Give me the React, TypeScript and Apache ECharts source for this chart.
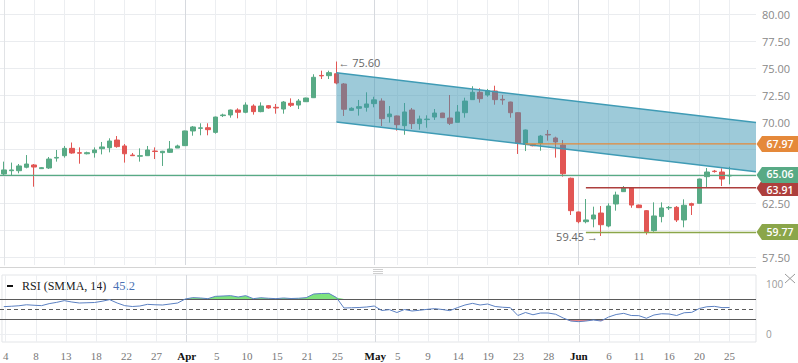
import React, { useEffect, useRef } from 'react';
import * as echarts from 'echarts';

const dates = [
  'Mar 4','Mar 5','Mar 6','Mar 7','Mar 8','Mar 10','Mar 11','Mar 12','Mar 13','Mar 14','Mar 15','Mar 17','Mar 18','Mar 19','Mar 20','Mar 21','Mar 22','Mar 24','Mar 25','Mar 26','Mar 27','Mar 28','Mar 29','Mar 31',
  'Apr 1','Apr 2','Apr 3','Apr 4','Apr 5','Apr 7','Apr 8','Apr 9','Apr 10','Apr 11','Apr 12','Apr 14','Apr 15','Apr 16','Apr 17','Apr 18','Apr 21','Apr 22','Apr 23','Apr 24','Apr 25','Apr 26','Apr 28','Apr 29','Apr 30',
  'May 1','May 2','May 3','May 5','May 6','May 7','May 8','May 9','May 10','May 12','May 13','May 14','May 15','May 16','May 17','May 19','May 20','May 21','May 22','May 23','May 24','May 26','May 27','May 28','May 29','May 30','May 31',
  'Jun 2','Jun 3','Jun 4','Jun 5','Jun 6','Jun 7','Jun 9','Jun 10','Jun 11','Jun 12','Jun 13','Jun 14','Jun 16','Jun 17','Jun 18','Jun 19','Jun 20','Jun 21','Jun 23','Jun 24','Jun 25',
];
const padCategories = [' ', '  ', '   '];

const openP = [
  65.19,65.49,65.49,65.81,66.02,65.68,65.74,66.66,66.88,67.56,67.16,67.06,67.16,67.53,67.62,68.33,67.78,66.94,66.83,66.88,
  67.31,67.16,67.19,67.59,67.81,69.17,69.41,69.47,69.04,70.59,70.65,71.11,70.90,71.48,70.96,71.51,71.36,71.20,71.73,71.57,
  71.88,72.25,74.31,74.29,74.47,73.52,71.08,71.27,71.36,71.70,71.94,70.49,70.56,69.66,71.11,69.85,70.22,70.46,70.83,70.37,
  69.97,70.86,72.07,72.75,72.50,72.87,72.10,71.85,70.86,67.94,67.92,68.03,68.85,68.52,67.87,64.79,61.67,60.77,61.02,61.57,
  60.37,62.41,63.55,63.92,62.31,61.79,59.94,61.24,62.05,62.10,60.93,62.44,62.47,64.94,65.45,65.37,65.00,
];
const closeP = [
  65.56,65.56,65.93,66.11,65.83,65.77,66.57,66.72,67.56,67.13,67.11,67.16,67.41,67.69,68.24,67.72,67.06,66.88,66.88,67.41,
  67.27,67.29,67.50,67.78,69.17,69.54,69.46,69.29,70.46,70.65,71.11,70.90,71.57,70.96,71.48,71.30,71.30,71.85,71.55,71.94,
  72.22,74.14,74.27,74.57,73.61,71.18,71.27,71.42,71.67,72.05,70.31,70.74,69.75,70.93,69.85,70.28,70.27,70.83,70.40,69.88,
  70.93,71.94,72.75,72.16,72.90,72.07,72.04,70.86,68.03,69.26,67.80,68.70,68.80,68.15,65.21,61.79,60.77,60.93,61.39,60.49,
  62.22,63.24,63.92,62.31,62.07,59.84,61.30,62.04,62.09,60.93,62.29,62.29,64.72,65.37,65.41,64.72,65.06,
];
const highP = [
  66.33,66.24,66.11,66.94,66.11,65.83,66.76,67.41,67.78,68.10,67.65,67.25,67.65,68.15,68.49,68.70,67.96,67.13,67.56,67.78,
  67.65,67.33,68.24,67.90,69.20,69.63,69.88,69.88,70.50,70.77,71.15,71.27,71.82,71.64,71.82,71.57,71.67,71.94,72.19,72.13,
  72.25,74.42,74.75,74.75,75.60,73.61,71.36,72.04,72.75,72.34,72.19,71.48,70.60,71.76,71.30,70.59,70.62,71.20,70.85,72.50,
  71.57,72.25,73.31,73.12,73.06,73.36,72.50,71.88,70.90,69.30,67.95,68.80,69.26,68.64,68.33,64.85,61.70,62.87,62.16,62.22,
  62.47,63.55,64.07,63.95,62.35,61.85,62.56,62.56,62.22,62.22,62.84,62.53,64.75,65.74,65.56,65.71,65.86,
];
const lowP = [
  65.09,65.09,65.25,65.71,64.01,65.65,65.65,66.33,66.70,67.06,66.14,67.00,66.70,67.00,67.19,67.62,66.24,66.86,66.33,66.86,
  66.57,65.93,67.13,67.59,67.78,68.73,68.77,68.77,68.92,70.46,70.40,70.34,70.81,70.68,70.90,71.23,70.77,70.77,71.39,71.20,
  71.85,72.22,73.98,73.98,73.49,70.56,71.05,70.59,70.96,71.36,69.63,69.94,69.20,68.82,69.35,69.29,69.47,70.19,70.38,69.72,
  69.94,70.40,72.04,71.79,72.34,71.60,71.60,70.40,67.04,67.31,67.75,67.34,68.27,66.70,64.94,61.39,60.62,60.62,60.25,59.45,
  60.25,61.79,63.52,62.06,62.03,59.57,59.84,60.71,61.85,60.74,60.25,61.39,62.44,63.95,65.31,64.07,64.23,
];

const rsiValues = [
  54.7,55.5,56.5,58.5,57.5,56.7,60.7,63.3,66.7,64,62,62.5,63,65.5,68.7,62,56.7,55,56,59.3,
  58.5,58,60,62,70,72.7,72,70.7,75.3,76,76.7,74,76.7,70.7,72.5,71.5,70.7,72,71,71.5,
  72.7,80,81,81.3,73,52,52.5,53,54,56,47,48.7,43,49,46,47.5,49.3,50.7,49,46.7,
  52.7,58,61.3,58,60,55,53.5,52.7,37,43,38.5,42,42,39.5,32,26,24.7,26,28,26,
  34,39,41.3,37,36.7,31.5,38,40.5,40,37,42.5,43.3,51,54.5,55.3,52.7,53,
];
const rsiLabel = 'RSI (SMMA, 14)';
const rsiLast = '45.2';
const rsiLevels = [70, 50, 30];

const tickIndex = [0,4,8,12,16,20,24,28,32,36,40,44,49,52,56,60,64,68,72,76,80,84,88,92,96];
const tickText = ['4','8','13','18','22','27','Apr','5','10','15','21','25','May','5','9','14','19','23','28','Jun','6','11','16','20','25'];
const monthTicks = ['Apr','May','Jun'];
const priceTicks = { min: 57.5, max: 80, step: 2.5 };

const levelValues = [67.97, 63.91, 65.06, 59.77];
const levelStart = [69, 77, -0.5, 77];
const levelColors = ['#e5893a', '#ad3f3d', '#58aa85', '#8ba64a'];
const levelTextShift = [0, 1.5, -1, 0];

const channelX = [44, 99.5];
const channelUpper = [74.55, 69.95];
const channelLower = [70.0, 65.4];

const highMark = { index: 44, value: 75.6, text: '\u2190 75.60' };
const lowMark = { index: 79, value: 59.45, text: '59.45 \u2192' };

const UP = '#58aa85';
const DOWN = '#e25654';
const GRID_LEFT = -2.1;
const GRID_RIGHT = 42;
const XMAX = 99.5;
const SANS = "'Open Sans', 'Noto Sans', sans-serif";
const SERIF = "'Liberation Serif', 'DejaVu Serif', serif";

export default function App() {
  const ref = useRef<HTMLDivElement>(null);
  useEffect(() => {
    if (!ref.current) return;
    const chart = echarts.init(ref.current, null, { renderer: 'svg' });
    const categories = dates.concat(padCategories);
    const candleData = openP.map((o, i) => [o, closeP[i], lowP[i], highP[i]]);

    const vLineData = () =>
      tickIndex.map((ix, k) => ({
        xAxis: ix,
        lineStyle: { color: monthTicks.includes(tickText[k]) ? '#d6d9de' : '#eceef1', width: 1, type: 'solid' },
      }));

    const option: any = {
      animation: false,
      backgroundColor: '#ffffff',
      grid: [
        { left: GRID_LEFT, right: GRID_RIGHT, top: 14, height: 243 },
        { left: GRID_LEFT, right: GRID_RIGHT, top: 0, height: 265 },
        { left: GRID_LEFT, right: GRID_RIGHT, top: 284, height: 50 },
        { left: GRID_LEFT, right: GRID_RIGHT, top: 275, height: 67, show: true, borderColor: '#e3e5e8', borderWidth: 1 },
      ],
      xAxis: [
        { type: 'category', gridIndex: 0, data: categories, boundaryGap: true, show: false },
        { type: 'value', gridIndex: 0, min: -0.5, max: XMAX, show: false },
        { type: 'value', gridIndex: 1, min: -0.5, max: XMAX, show: false },
        { type: 'category', gridIndex: 2, data: categories, boundaryGap: true, show: false },
        {
          type: 'category', gridIndex: 3, data: categories, boundaryGap: true,
          axisLine: { show: false }, axisTick: { show: false }, splitLine: { show: false },
          axisLabel: {
            show: true, margin: 8, fontFamily: SERIF, fontSize: 11,
            interval: (index: number) => tickIndex.indexOf(index) >= 0,
            formatter: (_v: string, index: number) => {
              const k = tickIndex.indexOf(index);
              if (k < 0) return '';
              const t = tickText[k];
              return monthTicks.includes(t) ? `{m|${t}}` : `{d|${t}}`;
            },
            rich: {
              m: { color: '#111', fontWeight: 'bold', fontFamily: SERIF, fontSize: 11 },
              d: { color: '#777', fontFamily: SERIF, fontSize: 11 },
            },
          },
        },
        { type: 'value', gridIndex: 3, min: -0.5, max: XMAX, show: false },
      ],
      yAxis: [
        {
          type: 'value', gridIndex: 0, position: 'right', min: priceTicks.min, max: priceTicks.max, interval: priceTicks.step,
          axisLine: { show: false }, axisTick: { show: false },
          splitLine: { show: true, lineStyle: { color: '#eaecef', width: 1 } },
          axisLabel: {
            margin: 6, color: '#888', fontSize: 11, fontFamily: SANS,
            formatter: (v: number) => (levelValues.some((l) => Math.abs(l - v) < 0.8) ? '' : v.toFixed(2)),
          },
        },
        {
          type: 'value', gridIndex: 1, position: 'right', min: 0, max: 1,
          axisLine: { show: true, lineStyle: { color: '#e1e3e6' } }, axisTick: { show: false },
          axisLabel: { show: false }, splitLine: { show: false },
        },
        {
          type: 'value', gridIndex: 2, position: 'right', min: 0, max: 100, interval: 100,
          axisLine: { show: false }, axisTick: { show: false }, splitLine: { show: false },
          axisLabel: { margin: 10, color: '#999', fontSize: 10, fontFamily: SANS },
        },
        { type: 'value', gridIndex: 3, min: 0, max: 1, show: false },
      ],
      series: [
        {
          type: 'line', xAxisIndex: 2, yAxisIndex: 1, data: [], silent: true, z: 0,
          markLine: { silent: true, z: 0, symbol: ['none', 'none'], label: { show: false }, data: vLineData() },
        },
        {
          type: 'line', xAxisIndex: 5, yAxisIndex: 3, data: [], silent: true, z: 0,
          markLine: { silent: true, z: 0, symbol: ['none', 'none'], label: { show: false }, data: vLineData() },
        },
        {
          type: 'candlestick', xAxisIndex: 0, yAxisIndex: 0, data: candleData, barWidth: 5, z: 2,
          itemStyle: { color: UP, color0: DOWN, borderColor: UP, borderColor0: DOWN, borderWidth: 1 },
        },
        {
          type: 'custom', xAxisIndex: 1, yAxisIndex: 0, z: 3, silent: true,
          data: [[channelX[0], channelUpper[0]]],
          renderItem: (_p: any, api: any) => {
            const a = api.coord([channelX[0], channelUpper[0]]);
            const b = api.coord([channelX[1], channelUpper[1]]);
            const c = api.coord([channelX[1], channelLower[1]]);
            const d = api.coord([channelX[0], channelLower[0]]);
            return {
              type: 'group',
              children: [
                { type: 'polygon', shape: { points: [a, b, c, d] }, style: { fill: 'rgba(60,150,180,0.5)' } },
                { type: 'line', shape: { x1: a[0], y1: a[1], x2: b[0], y2: b[1] }, style: { stroke: '#3f9bb5', lineWidth: 1.5 } },
                { type: 'line', shape: { x1: d[0], y1: d[1], x2: c[0], y2: c[1] }, style: { stroke: '#3f9bb5', lineWidth: 1.5 } },
              ],
            };
          },
        },
        ...levelValues.map((v, i) => ({
          type: 'line', xAxisIndex: 1, yAxisIndex: 0, z: 4, silent: true, symbol: 'none',
          data: [[levelStart[i], v], [XMAX, v]],
          lineStyle: { color: levelColors[i], width: 1.3 },
        })),
        {
          type: 'custom', xAxisIndex: 1, yAxisIndex: 0, z: 6, silent: true, clip: false,
          data: levelValues.map((v, i) => [XMAX, v, i]),
          renderItem: (_p: any, api: any) => {
            const pt = api.coord([api.value(0), api.value(1)]);
            const x = pt[0];
            const y = Math.round(pt[1]);
            const idx = api.value(2);
            return {
              type: 'group',
              children: [
                {
                  type: 'polygon',
                  shape: { points: [[x + 0.5, y], [x + 6, y - 8], [x + 42, y - 8], [x + 42, y + 8], [x + 6, y + 8]] },
                  style: { fill: levelColors[idx] },
                },
                {
                  type: 'text',
                  style: {
                    x: x + 24, y: y + levelTextShift[idx], text: levelValues[idx].toFixed(2), fill: '#fff',
                    font: `600 10.5px ${SANS}`, textAlign: 'center', textVerticalAlign: 'middle',
                  },
                },
              ],
            };
          },
        },
        {
          type: 'custom', xAxisIndex: 1, yAxisIndex: 0, z: 6, silent: true, clip: false,
          data: [[highMark.index, highMark.value, 0], [lowMark.index, lowMark.value, 1]],
          renderItem: (_p: any, api: any) => {
            const pt = api.coord([api.value(0), api.value(1)]);
            const isHigh = api.value(2) === 0;
            return {
              type: 'text',
              style: {
                x: isHigh ? pt[0] + 2 : pt[0] - 3,
                y: pt[1] + 1,
                text: isHigh ? highMark.text : lowMark.text,
                fill: '#666', font: `11px ${SANS}`,
                textAlign: isHigh ? 'left' : 'right', textVerticalAlign: 'middle',
              },
            };
          },
        },
        {
          type: 'line', xAxisIndex: 3, yAxisIndex: 2, z: 2, silent: true, symbol: 'none',
          data: rsiValues.map((v) => Math.max(v, rsiLevels[0])),
          lineStyle: { width: 0, opacity: 0 },
          areaStyle: { origin: rsiLevels[0], color: '#7ee37e', opacity: 1 },
        },
        {
          type: 'line', xAxisIndex: 3, yAxisIndex: 2, z: 2, silent: true, symbol: 'none',
          data: rsiValues.map((v) => Math.min(v, rsiLevels[2])),
          lineStyle: { width: 0, opacity: 0 },
          areaStyle: { origin: rsiLevels[2], color: '#ee8585', opacity: 1 },
        },
        {
          type: 'line', xAxisIndex: 3, yAxisIndex: 2, z: 4, silent: true, symbol: 'none',
          data: rsiValues,
          lineStyle: { color: '#5b80c2', width: 1 },
          markLine: {
            silent: true, z: 3, symbol: ['none', 'none'], label: { show: false },
            data: [
              { yAxis: 0, lineStyle: { color: '#eceef1', width: 1, type: 'solid' } },
              { yAxis: rsiLevels[0], lineStyle: { color: '#5a5a5a', width: 1, type: 'solid' } },
              { yAxis: rsiLevels[1], lineStyle: { color: '#5a5a5a', width: 1, type: [4, 3] } },
              { yAxis: rsiLevels[2], lineStyle: { color: '#5a5a5a', width: 1, type: 'solid' } },
            ],
          },
        },
      ],
      graphic: [
        { type: 'line', shape: { x1: 0, y1: 267.5, x2: 756, y2: 267.5 }, style: { stroke: '#d4d4d4', lineWidth: 1 }, silent: true },
        { type: 'line', shape: { x1: 373, y1: 269.5, x2: 383, y2: 269.5 }, style: { stroke: '#cfcfcf', lineWidth: 1 }, silent: true },
        { type: 'line', shape: { x1: 373, y1: 271.5, x2: 383, y2: 271.5 }, style: { stroke: '#cfcfcf', lineWidth: 1 }, silent: true },
        { type: 'line', shape: { x1: 373, y1: 273.5, x2: 383, y2: 273.5 }, style: { stroke: '#cfcfcf', lineWidth: 1 }, silent: true },
        { type: 'rect', shape: { x: 7, y: 285, width: 6, height: 2 }, style: { fill: '#111' }, silent: true },
        {
          type: 'text', x: 22, y: 286, silent: true,
          style: { text: rsiLabel, fill: '#222', font: `12px ${SERIF}`, textVerticalAlign: 'middle' },
        },
        {
          type: 'text', x: 113, y: 286, silent: true,
          style: { text: rsiLast, fill: '#4a70b3', font: `12.5px ${SERIF}`, textVerticalAlign: 'middle' },
        },
        { type: 'line', shape: { x1: 785, y1: 274, x2: 795, y2: 283 }, style: { stroke: '#9a9a9a', lineWidth: 1 }, silent: true },
        { type: 'line', shape: { x1: 795, y1: 274, x2: 785, y2: 283 }, style: { stroke: '#9a9a9a', lineWidth: 1 }, silent: true },
      ],
    };
    chart.setOption(option);
    return () => chart.dispose();
  }, []);
  return <div ref={ref} style={{ position: 'fixed', left: 0, top: 0, width: 798, height: 363 }} />;
}
